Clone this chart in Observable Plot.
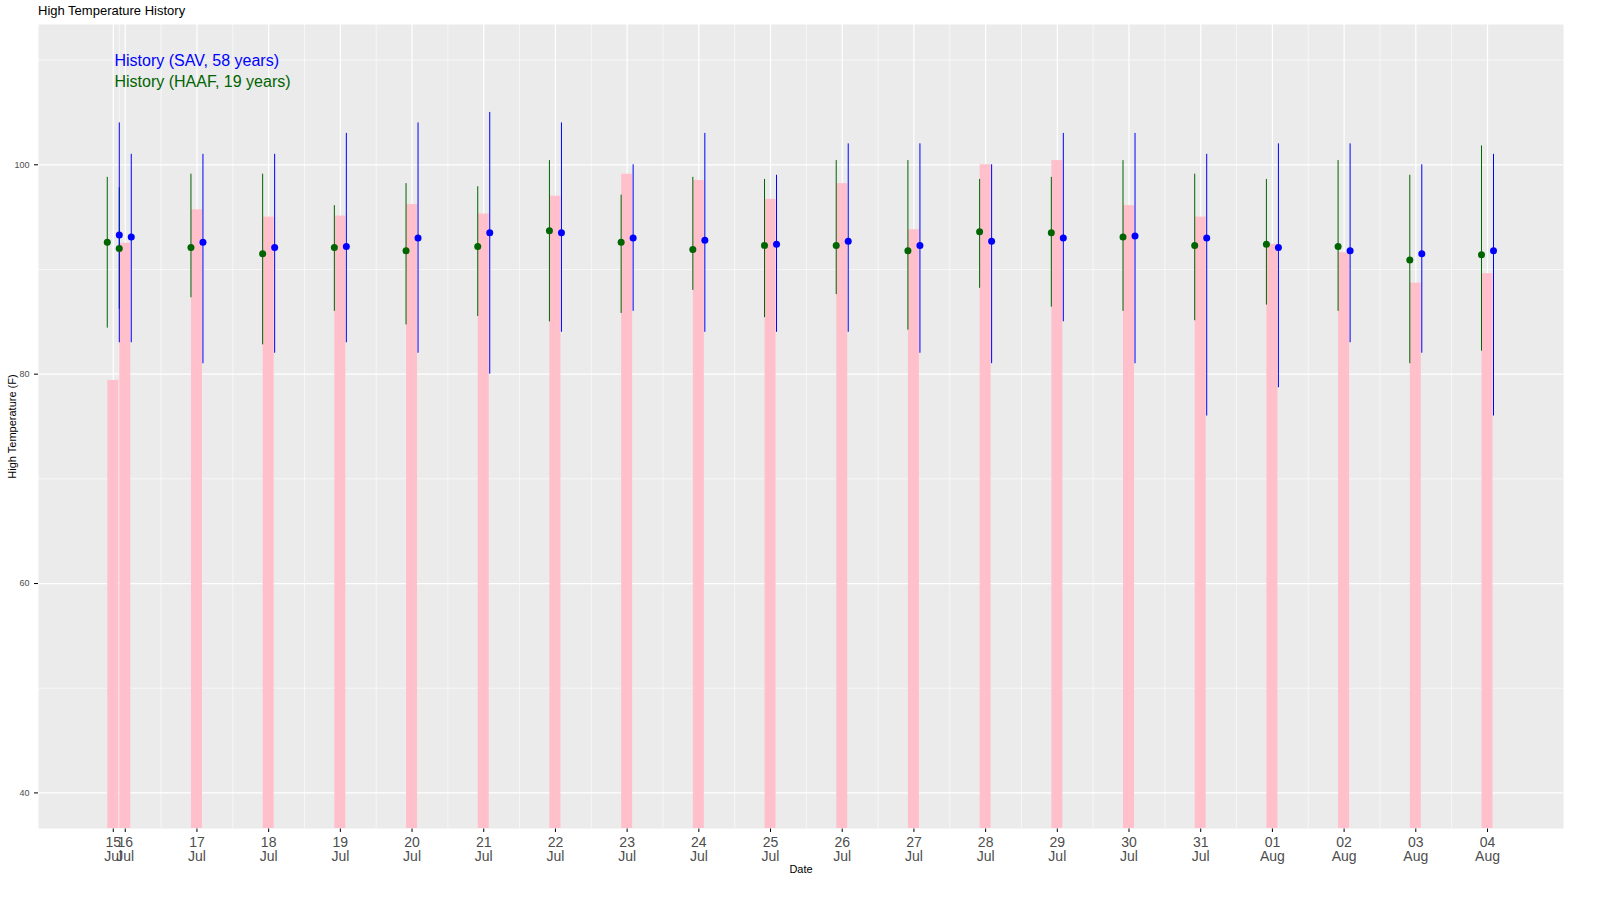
<!DOCTYPE html>
<html><head><meta charset="utf-8">
<script src="https://cdn.jsdelivr.net/npm/d3@7"></script>
<script src="https://cdn.jsdelivr.net/npm/@observablehq/plot@0.6"></script>
<style>html,body{margin:0;background:#fff;overflow:hidden;font-family:"Liberation Sans",Arial,sans-serif}#t{height:20px;padding-left:38px;font-size:13px;line-height:22px}</style>
</head><body><div id="t">High Temperature History</div><div id="c"></div>
<script>
const days = [15.833,16,17,18,19,20,21,22,23,24,25,26,27,28,29,30,31,32,33,34,35];
const tickLabels = ["15\nJul","16\nJul","17\nJul","18\nJul","19\nJul","20\nJul","21\nJul","22\nJul","23\nJul","24\nJul","25\nJul","26\nJul","27\nJul","28\nJul","29\nJul","30\nJul","31\nJul","01\nAug","02\nAug","03\nAug","04\nAug"];
const actual = [79.4,92.5,95.7,95,95.1,96.2,95.3,97,99.1,98.5,96.7,98.2,93.8,100,100.4,96.1,95,92.4,91.6,88.7,89.6];
const haafMean = [92.6,92,92.1,91.5,92.1,91.8,92.2,93.7,92.6,91.9,92.3,92.3,91.8,93.6,93.5,93.1,92.3,92.4,92.2,90.9,91.4];
const haafLo = [84.4,86.2,87.3,82.8,86,84.7,85.5,85,85.8,88,85.4,87.6,84.2,88.2,86.4,86,85.1,86.6,86,81,82.2];
const haafHi = [98.8,97.8,99.1,99.1,96.1,98.2,97.9,100.4,97.1,98.8,98.6,100.4,100.4,98.6,98.8,100.4,99.1,98.6,100.4,99,101.8];
const savMean = [93.3,93.1,92.6,92.1,92.2,93,93.5,93.5,93,92.8,92.4,92.7,92.3,92.7,93,93.2,93,92.1,91.8,91.5,91.8];
const savLo = [83,83,81,82,83,82,80,84,86,84,84,84,82,81,85,81,76,78.7,83,82,76];
const savHi = [104,101,101,101,103,104,105,104,100,103,99,102,102,100,103,103,101,102,102,100,101];

const dpp = 1/71.68;
const rows = days.map((d,i)=>({d,a:actual[i],gm:haafMean[i],gl:haafLo[i],gh:haafHi[i],bm:savMean[i],bl:savLo[i],bh:savHi[i]}));
const yMin = 36.6, yMax = 113.4;
const minorX = [15.917, ...d3.range(16.5,35.5,1)];
const labelMap = new Map(days.map((d,i)=>[d,tickLabels[i]]));
const chart = Plot.plot({
  width:1600, height:870, marginTop:4, marginBottom:62, marginLeft:38, marginRight:37,
  style:{background:"#fff", fontFamily:"Liberation Sans, Arial, sans-serif", maxWidth:"none"},
  x:{domain:[14.79,36.06], ticks:days, tickFormat:d=>labelMap.get(d), tickSize:4, label:"Date", labelAnchor:"center", labelArrow:"none", labelOffset:44},
  y:{domain:[yMin,yMax], ticks:[40,60,80,100], tickSize:4, label:"High Temperature (F)", labelAnchor:"center", labelArrow:"none", labelOffset:30},
  marks:[
    Plot.frame({fill:"#EBEBEB"}),
    Plot.gridY([50,70,90,110],{stroke:"#fff",strokeOpacity:1,strokeWidth:0.6}),
    Plot.gridY([40,60,80,100],{stroke:"#fff",strokeOpacity:1,strokeWidth:1.2}),
    Plot.gridX(minorX,{stroke:"#fff",strokeOpacity:1,strokeWidth:0.6}),
    Plot.gridX(days,{stroke:"#fff",strokeOpacity:1,strokeWidth:1.2}),
    Plot.rectY(rows,{x1:r=>r.d-5.5*dpp,x2:r=>r.d+5.5*dpp,y1:yMin,y2:"a",fill:"pink"}),
    Plot.ruleX(rows,{x:r=>r.d-6*dpp,y1:"gl",y2:"gh",stroke:"darkgreen",strokeWidth:1}),
    Plot.ruleX(rows,{x:r=>r.d+6*dpp,y1:"bl",y2:"bh",stroke:"blue",strokeWidth:1}),
    Plot.dot(rows,{x:r=>r.d-6*dpp,y:"gm",r:3.5,fill:"darkgreen"}),
    Plot.dot(rows,{x:r=>r.d+6*dpp,y:"bm",r:3.5,fill:"blue"}),
    Plot.text(["History (SAV, 58 years)"],{x:15.85,y:109.9,text:d=>d,fill:"blue",fontSize:16,textAnchor:"start"}),
    Plot.text(["History (HAAF, 19 years)"],{x:15.85,y:107.9,text:d=>d,fill:"darkgreen",fontSize:16,textAnchor:"start"})
  ]
});
chart.querySelectorAll('[aria-label="x-axis tick label"] text').forEach(t=>{t.setAttribute("font-size","14");t.setAttribute("fill","#4D4D4D");});
chart.querySelectorAll('[aria-label="y-axis tick label"] text').forEach(t=>{t.setAttribute("font-size","9");t.setAttribute("fill","#4D4D4D");});
chart.querySelectorAll('[aria-label$="axis label"] text').forEach(t=>t.setAttribute("font-size","11"));
document.getElementById("c").appendChild(chart);
</script></body></html>
